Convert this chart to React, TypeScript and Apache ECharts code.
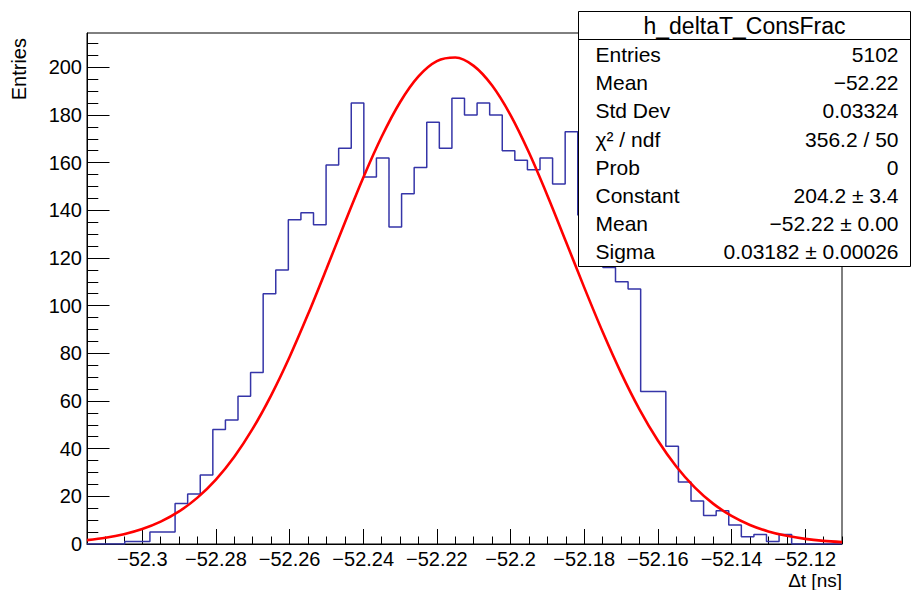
import React, { useEffect, useRef } from "react";
import * as echarts from "echarts";

// ---- data ----
const X_MIN = -52.315;
const X_MAX = -52.11;
const binValues = [
  0, 0, 0, 1, 1, 5, 5, 17, 21, 29, 48, 52, 62, 72, 105, 115, 136, 139, 134, 159,
  166, 185, 154, 162, 133, 147, 158, 177, 166, 187, 180, 185, 180, 165, 161, 157, 162, 151, 173, 138,
  122, 116, 110, 107, 64, 64, 41, 26, 18, 12, 14, 8, 3, 4, 1, 4, 0, 0, 0, 0,
];
const fitX = [
  -52.315, -52.31, -52.305, -52.3, -52.295, -52.29, -52.285, -52.28, -52.275, -52.27,
  -52.265, -52.26, -52.255, -52.25, -52.245, -52.24, -52.235, -52.23, -52.225, -52.22,
  -52.215, -52.21, -52.205, -52.2, -52.195, -52.19, -52.185, -52.18, -52.175, -52.17,
  -52.165, -52.16, -52.155, -52.15, -52.145, -52.14, -52.135, -52.13, -52.125, -52.12,
  -52.115, -52.11,
];
const fitY = [
  1.61, 2.6, 4.08, 6.26, 9.36, 13.67, 19.46, 27.02, 36.6, 48.38,
  62.39, 78.49, 96.35, 115.38, 134.8, 153.66, 170.85, 185.36, 196.19, 202.59,
  204.1, 200.6, 192.35, 179.95, 164.24, 146.25, 127.04, 107.67, 89.03, 71.82,
  56.52, 43.41, 32.51, 23.76, 16.94, 11.78, 8.0, 5.29, 3.42, 2.15,
  1.32, 0.8,
];
const xTickValues = [-52.3, -52.28, -52.26, -52.24, -52.22, -52.2, -52.18, -52.16, -52.14, -52.12];
const yTickValues = [0, 20, 40, 60, 80, 100, 120, 140, 160, 180, 200];
const Y_MAX = 214.4;
const statTitle = "h_deltaT_ConsFrac";
const statLabels = ["Entries", "Mean", "Std Dev", "χ² / ndf", "Prob", "Constant", "Mean", "Sigma"];
const statValues = ["5102", "−52.22", "0.03324", "356.2 / 50", "0", "204.2 ± 3.4", "−52.22 ± 0.00", "0.03182 ± 0.00026"];
const xTitle = "Δt [ns]";
const yTitle = "Entries";

const FONT = "'Liberation Sans', Arial, Helvetica, sans-serif";

export default function App() {
  const ref = useRef<HTMLDivElement>(null);
  useEffect(() => {
    if (!ref.current) return;
    const chart = echarts.init(ref.current, null, { renderer: "svg" });

    const nb = binValues.length;
    const bw = (X_MAX - X_MIN) / nb;
    const histData: number[][] = binValues.map((v, i) => [X_MIN + i * bw, v]);
    histData.push([X_MAX, binValues[nb - 1]]);

    const minorX: number[] = [];
    for (let i = 0; i <= 41; i++) minorX.push(+(X_MIN + i * 0.005).toFixed(3));
    const minorY: number[] = [];
    for (let v = 0; v <= 210; v += 5) minorY.push(v);

    const fitData = fitX.map((x, i) => [x, fitY[i]]);

    const left = 87, top = 33, width = 755, height = 511;

    const rowY = (i: number) => 54.5 + i * 28.2;
    const statElems: any[] = [
      {
        type: "rect",
        shape: { x: 578.5, y: 11.5, width: 332, height: 255 },
        style: { fill: "#fff", stroke: "#000", lineWidth: 1 },
        z: 100,
      },
      {
        type: "line",
        shape: { x1: 578.5, y1: 39.5, x2: 910.5, y2: 39.5 },
        style: { stroke: "#000", lineWidth: 1 },
        z: 101,
      },
      {
        type: "text",
        x: 744.5,
        y: 25.5,
        style: {
          text: statTitle,
          font: `23px ${FONT}`,
          fill: "#000",
          align: "center",
          verticalAlign: "middle",
          textAlign: "center",
          textVerticalAlign: "middle",
        },
        z: 101,
      },
    ];
    statLabels.forEach((lab, i) => {
      statElems.push({
        type: "text",
        x: 595.5,
        y: rowY(i),
        style: {
          text: lab,
          font: `21px ${FONT}`,
          fill: "#000",
          align: "left",
          verticalAlign: "middle",
          textAlign: "left",
          textVerticalAlign: "middle",
        },
        z: 101,
      });
      statElems.push({
        type: "text",
        x: 898.5,
        y: rowY(i),
        style: {
          text: statValues[i],
          font: `21px ${FONT}`,
          fill: "#000",
          align: "right",
          verticalAlign: "middle",
          textAlign: "right",
          textVerticalAlign: "middle",
        },
        z: 101,
      });
    });

    chart.setOption({
      animation: false,
      backgroundColor: "#fff",
      grid: {
        left,
        top,
        width,
        height,
        show: true,
        borderColor: "#000",
        borderWidth: 1,
        backgroundColor: "transparent",
      },
      xAxis: [
        {
          type: "value",
          min: X_MIN,
          max: X_MAX,
          position: "bottom",
          axisLine: { show: true, onZero: false, lineStyle: { color: "#000", width: 1 } },
          axisTick: { show: true, inside: true, length: 15, customValues: xTickValues, lineStyle: { color: "#000" } },
          axisLabel: {
            show: true,
            customValues: xTickValues,
            margin: 5,
            color: "#000",
            fontSize: 20,
            lineHeight: 20,
            fontFamily: FONT,
            formatter: (v: number) => String(+v.toFixed(3)).replace("-", "−"),
          },
          splitLine: { show: false },
        },
        {
          type: "value",
          min: X_MIN,
          max: X_MAX,
          position: "bottom",
          axisLine: { show: false, onZero: false },
          axisTick: { show: true, inside: true, length: 7.5, customValues: minorX, lineStyle: { color: "#000" } },
          axisLabel: { show: false },
          splitLine: { show: false },
        },
      ],
      yAxis: [
        {
          type: "value",
          min: 0,
          max: Y_MAX,
          position: "left",
          axisLine: { show: true, onZero: false, lineStyle: { color: "#000", width: 1 } },
          axisTick: { show: true, inside: true, length: 22.5, customValues: yTickValues, lineStyle: { color: "#000" } },
          axisLabel: {
            show: true,
            customValues: yTickValues,
            margin: 5,
            color: "#000",
            fontSize: 20,
            fontFamily: FONT,
          },
          splitLine: { show: false },
        },
        {
          type: "value",
          min: 0,
          max: Y_MAX,
          position: "left",
          axisLine: { show: false, onZero: false },
          axisTick: { show: true, inside: true, length: 11.3, customValues: minorY, lineStyle: { color: "#000" } },
          axisLabel: { show: false },
          splitLine: { show: false },
        },
      ],
      series: [
        {
          type: "line",
          xAxisIndex: 0,
          yAxisIndex: 0,
          data: histData,
          step: "end",
          symbol: "none",
          lineStyle: { color: "#3535a8", width: 1.5 },
          z: 3,
        },
        {
          type: "line",
          xAxisIndex: 0,
          yAxisIndex: 0,
          data: fitData,
          smooth: 0.3,
          symbol: "none",
          lineStyle: { color: "#ff0000", width: 2.6 },
          z: 4,
        },
      ],
      graphic: [
        {
          type: "text",
          x: 19,
          y: 38,
          rotation: Math.PI / 2,
          style: {
            text: yTitle,
            font: `20px ${FONT}`,
            fill: "#000",
            align: "right",
            verticalAlign: "middle",
            textAlign: "right",
            textVerticalAlign: "middle",
          },
        },
        {
          type: "text",
          x: 842,
          y: 580,
          style: {
            text: xTitle,
            font: `19px ${FONT}`,
            lineHeight: 19,
            fill: "#000",
            align: "right",
            verticalAlign: "middle",
            textAlign: "right",
            textVerticalAlign: "middle",
          },
        },
        ...statElems,
      ],
    });
    return () => chart.dispose();
  }, []);
  return (
    <div
      ref={ref}
      style={{ position: "fixed", left: 0, top: 0, width: 912, height: 590, background: "#fff" }}
    />
  );
}
